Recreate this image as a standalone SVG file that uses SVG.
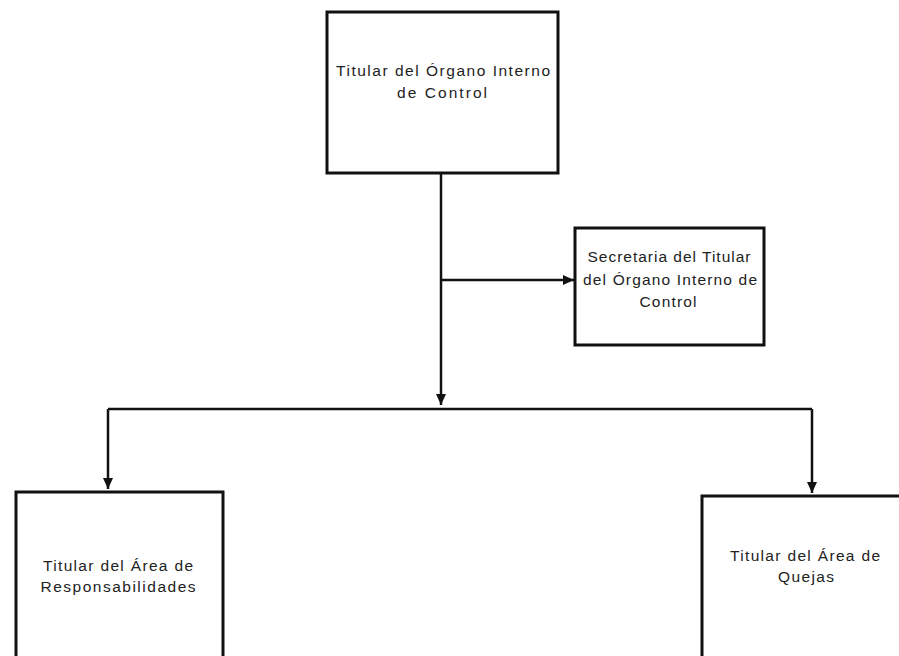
<svg xmlns="http://www.w3.org/2000/svg" width="899" height="656" viewBox="0 0 899 656">
<style>
.box{fill:#fff;stroke:#111;stroke-width:3}
.ln{fill:none;stroke:#111;stroke-width:2.5}
.t{font-family:"Liberation Sans",Arial,sans-serif;font-size:15.5px;fill:#222;text-anchor:middle}
</style>
<defs>
<marker id="ah" markerWidth="12" markerHeight="12" refX="11" refY="5.5" orient="auto" markerUnits="userSpaceOnUse">
<path d="M0,0.5 L11,5.5 L0,10.5 Z" fill="#111"/>
</marker>
</defs>
<rect width="899" height="656" fill="#fff"/>
<g id="connectors">
<path class="ln" d="M441,173 V405" marker-end="url(#ah)"/>
<path class="ln" d="M441,280 H574" marker-end="url(#ah)"/>
<path class="ln" d="M108,409 H812"/>
<path class="ln" d="M108,409 V489" marker-end="url(#ah)"/>
<path class="ln" d="M812,409 V493" marker-end="url(#ah)"/>
</g>
<g id="n1">
<rect class="box" x="327" y="12" width="231" height="161"/>
<text class="t" x="443" y="76" textLength="214" lengthAdjust="spacing">Titular del Órgano Interno</text>
<text class="t" x="442" y="98" textLength="90" lengthAdjust="spacing">de Control</text>
</g>
<g id="n2">
<rect class="box" x="575" y="228" width="189" height="117"/>
<text class="t" x="669" y="262" textLength="163" lengthAdjust="spacing">Secretaria del Titular</text>
<text class="t" x="670" y="285" textLength="174" lengthAdjust="spacing">del Órgano Interno de</text>
<text class="t" x="668" y="307" textLength="57" lengthAdjust="spacing">Control</text>
</g>
<g id="n3">
<rect class="box" x="16" y="492" width="207" height="170"/>
<text class="t" x="118" y="571" textLength="150" lengthAdjust="spacing">Titular del Área de</text>
<text class="t" x="118" y="592" textLength="155" lengthAdjust="spacing">Responsabilidades</text>
</g>
<g id="n4">
<rect class="box" x="702" y="496" width="210" height="170"/>
<text class="t" x="805" y="561" textLength="150" lengthAdjust="spacing">Titular del Área de</text>
<text class="t" x="806" y="582" textLength="56" lengthAdjust="spacing">Quejas</text>
</g>
</svg>
